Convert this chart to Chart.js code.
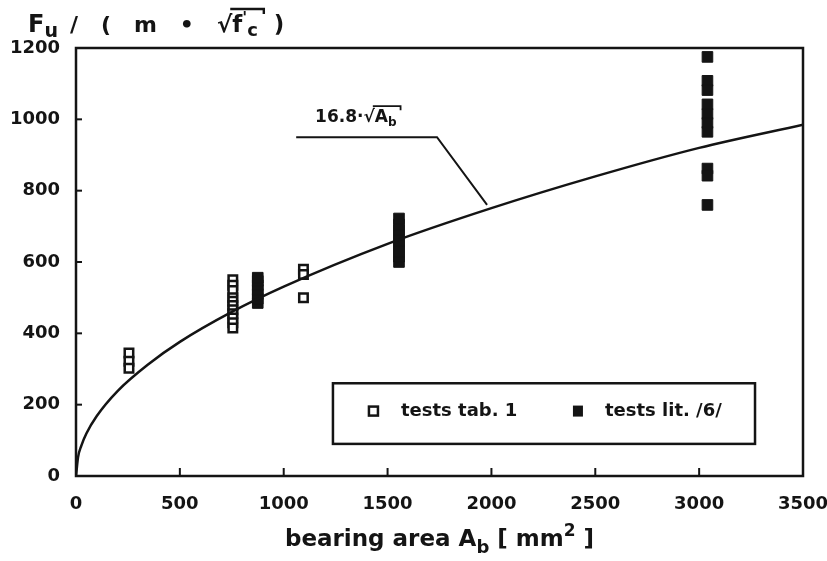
<!DOCTYPE html>
<html>
<head>
<meta charset="utf-8">
<script src="https://cdn.jsdelivr.net/npm/chart.js@4.4.1/dist/chart.umd.min.js"></script>
<style>
  html, body { margin: 0; padding: 0; background: #fff; }
  #wrap { width: 827px; height: 561px; }
</style>
</head>
<body>
<div id="wrap"><canvas id="grafico" width="827" height="561"></canvas></div>
<script>
// dados
const tab1Area  = [255, 255, 255, 755, 755, 755, 755, 755, 755, 755, 755, 755, 755, 755, 1095, 1095, 1095];
const tab1Force = [345, 322, 302, 550, 535, 520, 500, 490, 478, 466, 455, 443, 430, 415, 580, 565, 500];

const lit6Area  = [875, 875, 875, 875, 875, 875, 875, 1555, 1555, 1555, 1555, 1555, 1555, 1555, 1555, 1555,
                   3040, 3040, 3040, 3040, 3040, 3040, 3040, 3040, 3040, 3040];
const lit6Force = [485, 497, 510, 522, 535, 547, 556, 600, 615, 630, 645, 660, 675, 690, 705, 722,
                   1175, 1108, 1082, 1042, 1015, 990, 965, 862, 842, 760];

// curva 16.8*sqrt(Ab), pontos
const curveArea  = [0, 10, 25, 50, 100, 200, 350, 500, 750, 1000, 1500, 2000, 2500, 3000, 3500];
const curveForce = [0, 53, 84, 119, 168, 238, 314, 376, 460, 531, 651, 751, 840, 920, 985];

const xTicks = [0, 500, 1000, 1500, 2000, 2500, 3000, 3500];
const yTicks = [0, 200, 400, 600, 800, 1000, 1200];

// texto da anotação e posição (coordenadas de dados)
const annotLabel = { x: 1151, y: 992 };
const annotLeader = [[1060, 950], [1738, 950], [1979, 760]];

const INK = '#141414';
const FONT = '"DejaVu Sans", "Liberation Sans", sans-serif';

function toPts(xs, ys) {
    return xs.map((x, i) => ({ x: x, y: ys[i] }));
}

// desenha texto com partes (subscrito, sobrescrito)
function drawParts(ctx, parts, x, y) {
    let cx = x;
    const pos = [];
    parts.forEach(p => {
        ctx.font = 'bold ' + p.size + 'px ' + FONT;
        ctx.fillText(p.t, cx, y + (p.dy || 0));
        const w = ctx.measureText(p.t).width;
        pos.push({ x: cx, w: w });
        cx += w + (p.gap || 0);
    });
    return pos;
}

const moldura = {
    id: 'moldura',
    afterDraw(chart) {
        const ctx = chart.ctx;
        const a = chart.chartArea;
        const xs = chart.scales.x, ys = chart.scales.y;
        ctx.save();
        ctx.strokeStyle = INK;
        ctx.fillStyle = INK;
        ctx.lineWidth = 2.5;
        ctx.strokeRect(a.left, a.top, a.right - a.left, a.bottom - a.top);

        // ticks internos
        ctx.lineWidth = 2;
        xTicks.slice(1, -1).forEach(v => {
            const px = xs.getPixelForValue(v);
            ctx.beginPath(); ctx.moveTo(px, a.bottom); ctx.lineTo(px, a.bottom - 8); ctx.stroke();
        });
        yTicks.slice(1, -1).forEach(v => {
            const py = ys.getPixelForValue(v);
            ctx.beginPath(); ctx.moveTo(a.left, py); ctx.lineTo(a.left + 6, py); ctx.stroke();
        });

        ctx.textBaseline = 'alphabetic';
        ctx.textAlign = 'left';

        // título do eixo y
        const t = drawParts(ctx, [
            { t: 'F', size: 24 },
            { t: 'u', size: 19, dy: 5, gap: 12 },
            { t: '/   (   m   •   ', size: 22 },
            { t: '√', size: 23 },
            { t: 'f', size: 23 },
            { t: "'", size: 16, dy: -9 },
            { t: 'c', size: 18, dy: 4, gap: 16 },
            { t: ')', size: 23 }
        ], 28, 32);
        ctx.lineWidth = 2.4;
        ctx.beginPath();
        ctx.moveTo(t[3].x + t[3].w - 2, 9);
        ctx.lineTo(t[6].x + t[6].w + 6, 9);
        ctx.lineTo(t[6].x + t[6].w + 6, 14);
        ctx.stroke();

        // título do eixo x
        const cxm = (a.left + a.right) / 2;
        const xp = [
            { t: 'bearing area A', size: 23 },
            { t: 'b', size: 18, dy: 7, gap: 8 },
            { t: '[ mm', size: 23 },
            { t: '2', size: 17, dy: -10, gap: 8 },
            { t: ']', size: 23 }
        ];
        let total = 0;
        xp.forEach(p => { ctx.font = 'bold ' + p.size + 'px ' + FONT; total += ctx.measureText(p.t).width + (p.gap || 0); });
        drawParts(ctx, xp, cxm - total / 2, 546);

        // anotação da curva
        const lx = xs.getPixelForValue(annotLabel.x), ly = ys.getPixelForValue(annotLabel.y);
        const an = drawParts(ctx, [
            { t: '16.8·', size: 17 },
            { t: '√', size: 17 },
            { t: 'A', size: 17 },
            { t: 'b', size: 12, dy: 4 }
        ], lx, ly);
        ctx.lineWidth = 1.8;
        ctx.beginPath();
        ctx.moveTo(an[1].x + an[1].w - 2, ly - 16);
        ctx.lineTo(an[3].x + an[3].w + 4, ly - 16);
        ctx.lineTo(an[3].x + an[3].w + 4, ly - 12);
        ctx.stroke();
        ctx.lineWidth = 2;
        ctx.beginPath();
        annotLeader.forEach((p, i) => {
            const px = xs.getPixelForValue(p[0]), py = ys.getPixelForValue(p[1]);
            if (i === 0) ctx.moveTo(px, py); else ctx.lineTo(px, py);
        });
        ctx.stroke();

        // legenda
        const bx = xs.getPixelForValue(1237), by = ys.getPixelForValue(260);
        const bx2 = xs.getPixelForValue(3269), by2 = ys.getPixelForValue(90);
        ctx.lineWidth = 2.5;
        ctx.strokeRect(bx, by, bx2 - bx, by2 - by);
        const my = (by + by2) / 2 - 2;
        ctx.lineWidth = 2.5;
        ctx.fillStyle = '#fff';
        ctx.fillRect(bx + 36, my - 5, 9, 9);
        ctx.strokeRect(bx + 36, my - 5, 9, 9);
        ctx.fillStyle = INK;
        ctx.fillRect(bx + 240, my - 6, 10, 11);
        ctx.font = 'bold 18px ' + FONT;
        ctx.textBaseline = 'middle';
        ctx.fillText('tests tab. 1', bx + 68, my);
        ctx.fillText('tests lit. /6/', bx + 272, my);
        ctx.restore();
    }
};

const ctx = document.getElementById('grafico').getContext('2d');
new Chart(ctx, {
    type: 'scatter',
    data: {
        datasets: [
            {
                type: 'line',
                label: '16.8·√Ab',
                data: toPts(curveArea, curveForce),
                borderColor: INK,
                borderWidth: 2.5,
                pointRadius: 0,
                cubicInterpolationMode: 'monotone',
                fill: false
            },
            {
                label: 'tests tab. 1',
                data: toPts(tab1Area, tab1Force),
                pointStyle: 'rect',
                pointRadius: 6,
                backgroundColor: '#fff',
                borderColor: INK,
                borderWidth: 2.5
            },
            {
                label: 'tests lit. /6/',
                data: toPts(lit6Area, lit6Force),
                pointStyle: 'rect',
                pointRadius: 7.5,
                backgroundColor: INK,
                borderColor: INK,
                borderWidth: 1
            }
        ]
    },
    options: {
        responsive: false,
        devicePixelRatio: 1,
        animation: false,
        layout: { padding: { left: 0, top: 48, right: 24, bottom: 0 } },
        plugins: { legend: { display: false }, tooltip: { enabled: false } },
        scales: {
            x: {
                type: 'linear', min: 0, max: 3500,
                afterFit: s => { s.height = 85; s.paddingLeft = 0; s.paddingRight = 0; },
                afterBuildTicks: s => { s.ticks = xTicks.map(v => ({ value: v })); },
                grid: { display: false },
                border: { display: false },
                ticks: { color: INK, padding: 10, maxRotation: 0, callback: v => String(v),
                         font: { family: FONT, size: 18, weight: 'bold' } }
            },
            y: {
                type: 'linear', min: 0, max: 1200,
                afterFit: s => { s.width = 76; s.paddingTop = 0; s.paddingBottom = 0; },
                afterBuildTicks: s => { s.ticks = yTicks.map(v => ({ value: v })); },
                grid: { display: false },
                border: { display: false },
                ticks: { color: INK, padding: 8, callback: v => String(v),
                         font: { family: FONT, size: 18, weight: 'bold' } }
            }
        }
    },
    plugins: [moldura]
});
</script>
</body>
</html>
